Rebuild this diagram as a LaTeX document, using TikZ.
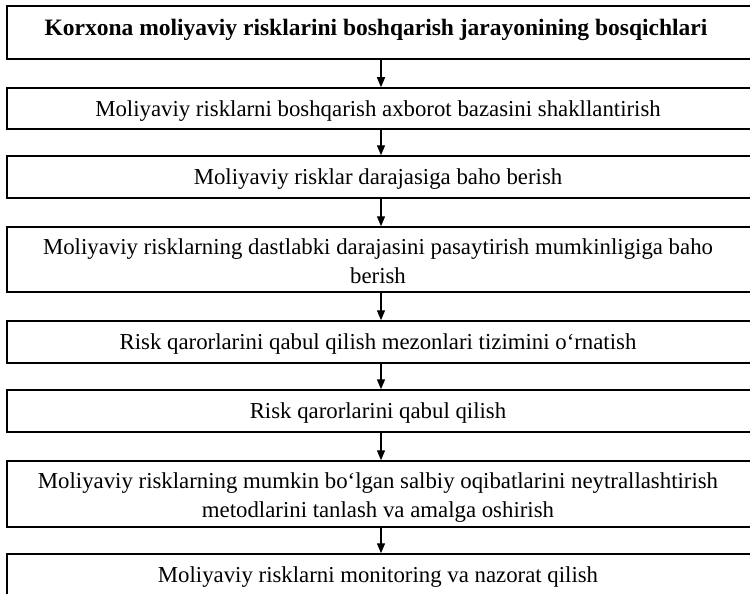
\documentclass[tikz,border=0pt]{standalone}
\usepackage{fontspec}
\setmainfont{Liberation Serif}
\usetikzlibrary{arrows.meta}
\begin{document}
\begin{tikzpicture}[x=1pt,y=-1pt,
  stage/.style={draw=black, line width=1.5pt, rectangle, inner sep=0pt,
    minimum width=748pt},
  label/.style={anchor=base, inner sep=0pt, align=center,
    font=\fontsize{22.8}{29}\selectfont},
  link/.style={line width=1.4pt, -{Triangle[length=10pt,width=8pt]}}]
\useasboundingbox (0,0) rectangle (750,594);
\clip (0,0) rectangle (750,594);
% stage boxes, top to bottom
\node[stage, minimum height=53pt] (b1) at (381,32.5) {};
\node[stage, minimum height=41pt] (b2) at (381,108.5) {};
\node[stage, minimum height=42pt] (b3) at (381,177) {};
\node[stage, minimum height=65pt] (b4) at (381,259.5) {};
\node[stage, minimum height=42pt] (b5) at (381,342) {};
\node[stage, minimum height=42pt] (b6) at (381,411) {};
\node[stage, minimum height=66pt] (b7) at (381,494) {};
\node[stage, minimum height=44pt] (b8) at (381,576) {};
% stage texts (base anchor sits on the last line)
\node[label, font=\fontsize{23.5}{29}\selectfont\bfseries] (t1) at (376,36)
  {Korxona moliyaviy risklarini boshqarish jarayonining bosqichlari};
\node[label] (t2) at (378,116)
  {Moliyaviy risklarni boshqarish axborot bazasini shakllantirish};
\node[label] (t3) at (378,184)
  {Moliyaviy risklar darajasiga baho berish};
\node[label] (t4) at (378,283)
  {Moliyaviy risklarning dastlabki darajasini pasaytirish mumkinligiga baho\\berish};
\node[label] (t5) at (378,349)
  {Risk qarorlarini qabul qilish mezonlari tizimini o‘rnatish};
\node[label] (t6) at (378,418)
  {Risk qarorlarini qabul qilish};
\node[label] (t7) at (378,517)
  {Moliyaviy risklarning mumkin bo‘lgan salbiy oqibatlarini neytrallashtirish\\metodlarini tanlash va amalga oshirish};
\node[label] (t8) at (378,582)
  {Moliyaviy risklarni monitoring va nazorat qilish};
% connectors
\foreach \a/\b in {b1/b2,b2/b3,b3/b4,b4/b5,b5/b6,b6/b7,b7/b8}
  \draw[link] (\a.south) -- (\b.north);
\end{tikzpicture}
\end{document}
